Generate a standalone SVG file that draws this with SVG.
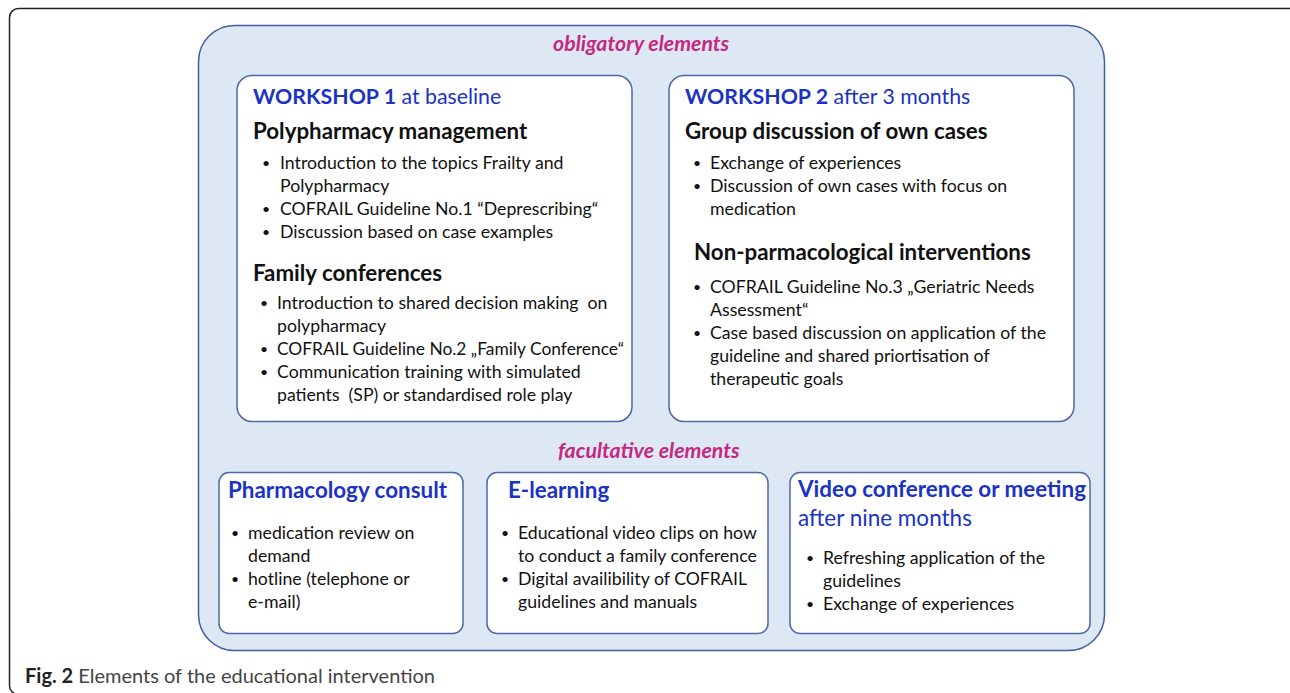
<svg xmlns="http://www.w3.org/2000/svg" width="1290" height="693" viewBox="0 0 1290 693">
<style>
text{font-family:Lato,"Open Sans","Liberation Sans",sans-serif;white-space:pre}
.frame{fill:#fff;stroke:#222;stroke-width:1.5}
.cont{fill:#dde8f4;stroke:#3f5f9f;stroke-width:1.5}
.box{fill:#fff;stroke:#4a69a6;stroke-width:1.5}
.sec{font-size:21.3px;font-style:italic;font-weight:bold;fill:#c4287f}
.ttl{font-size:21.3px;fill:#1a33c4}
.ttl .b{font-weight:bold}
.bt{font-size:22.4px;font-weight:bold;fill:#1a33c4}
.sub{font-size:22.5px;fill:#1a33c4}
.hd{font-size:22.3px;font-weight:bold;fill:#111}
.it{font-size:17.7px;fill:#111}
.bl{font-size:14px;fill:#111}
.cap{font-size:20px;fill:#444}
</style>
<rect class="frame" x="9.5" y="8.5" width="1290" height="686" rx="9"/>
<g id="container">
<rect class="cont" x="198.5" y="25.5" width="906" height="625" rx="36"/>
<text class="sec" x="553" y="51">obligatory elements</text>
<text class="sec" x="558" y="458">facultative elements</text>
</g>
<g id="workshop1">
<rect class="box" x="237" y="75.5" width="395" height="346" rx="15"/>
<text class="ttl" x="253" y="104"><tspan class="b">WORKSHOP 1</tspan> at baseline</text>
<text class="hd" x="253" y="139">Polypharmacy management</text>
<g class="bl">
<text x="262" y="168">•</text><text x="262" y="214">•</text><text x="262" y="237">•</text>
<text x="260" y="308">•</text><text x="260" y="354">•</text><text x="260" y="377">•</text>
</g>
<g class="it">
<text x="280" y="169">Introduction to the topics Frailty and</text>
<text x="280" y="192">Polypharmacy</text>
<text x="280" y="215">COFRAIL Guideline No.1 “Deprescribing“</text>
<text x="280" y="238">Discussion based on case examples</text>
</g>
<text class="hd" x="253" y="281">Family conferences</text>
<g class="it">
<text x="277" y="309">Introduction to shared decision making  on</text>
<text x="277" y="332">polypharmacy</text>
<text x="277" y="355" textLength="347" lengthAdjust="spacingAndGlyphs">COFRAIL Guideline No.2 „Family Conference“</text>
<text x="277" y="378">Communication training with simulated</text>
<text x="277" y="401">patients  (SP) or standardised role play</text>
</g>
</g>
<g id="workshop2">
<rect class="box" x="669" y="75.5" width="405" height="346" rx="15"/>
<text class="ttl" x="685" y="104"><tspan class="b">WORKSHOP 2</tspan> after 3 months</text>
<text class="hd" x="685" y="139">Group discussion of own cases</text>
<g class="bl">
<text x="693" y="168">•</text><text x="693" y="191">•</text>
<text x="693" y="292">•</text><text x="693" y="338">•</text>
</g>
<g class="it">
<text x="710" y="169">Exchange of experiences</text>
<text x="710" y="192">Discussion of own cases with focus on</text>
<text x="710" y="215">medication</text>
</g>
<text class="hd" x="694" y="260">Non-parmacological interventions</text>
<g class="it">
<text x="710" y="293">COFRAIL Guideline No.3 „Geriatric Needs</text>
<text x="710" y="316">Assessment“</text>
<text x="710" y="339">Case based discussion on application of the</text>
<text x="710" y="362">guideline and shared priortisation of</text>
<text x="710" y="385">therapeutic goals</text>
</g>
</g>
<g id="pharmacology">
<rect class="box" x="219" y="472.5" width="244" height="161" rx="10"/>
<text class="bt" x="228" y="498">Pharmacology consult</text>
<g class="bl"><text x="231" y="538">•</text><text x="231" y="584">•</text></g>
<g class="it">
<text x="248" y="539">medication review on</text>
<text x="248" y="562">demand</text>
<text x="248" y="585">hotline (telephone or</text>
<text x="248" y="608">e-mail)</text>
</g>
</g>
<g id="elearning">
<rect class="box" x="487" y="472.5" width="281" height="161" rx="10"/>
<text class="bt" x="508" y="498">E-learning</text>
<g class="bl"><text x="501" y="538">•</text><text x="501" y="584">•</text></g>
<g class="it">
<text x="518" y="539">Educational video clips on how</text>
<text x="518" y="562">to conduct a family conference</text>
<text x="518" y="585">Digital availibility of COFRAIL</text>
<text x="518" y="608">guidelines and manuals</text>
</g>
</g>
<g id="video">
<rect class="box" x="790" y="472.5" width="300" height="161" rx="10"/>
<text class="bt" x="798" y="497">Video conference or meeting</text>
<text class="sub" x="798" y="526">after nine months</text>
<g class="bl"><text x="806" y="563">•</text><text x="806" y="609">•</text></g>
<g class="it">
<text x="823" y="564">Refreshing application of the</text>
<text x="823" y="587">guidelines</text>
<text x="823" y="610">Exchange of experiences</text>
</g>
</g>
<g id="connectors"></g>
<text class="cap" x="25" y="683"><tspan font-weight="bold" fill="#222">Fig. 2</tspan> Elements of the educational intervention</text>
</svg>
